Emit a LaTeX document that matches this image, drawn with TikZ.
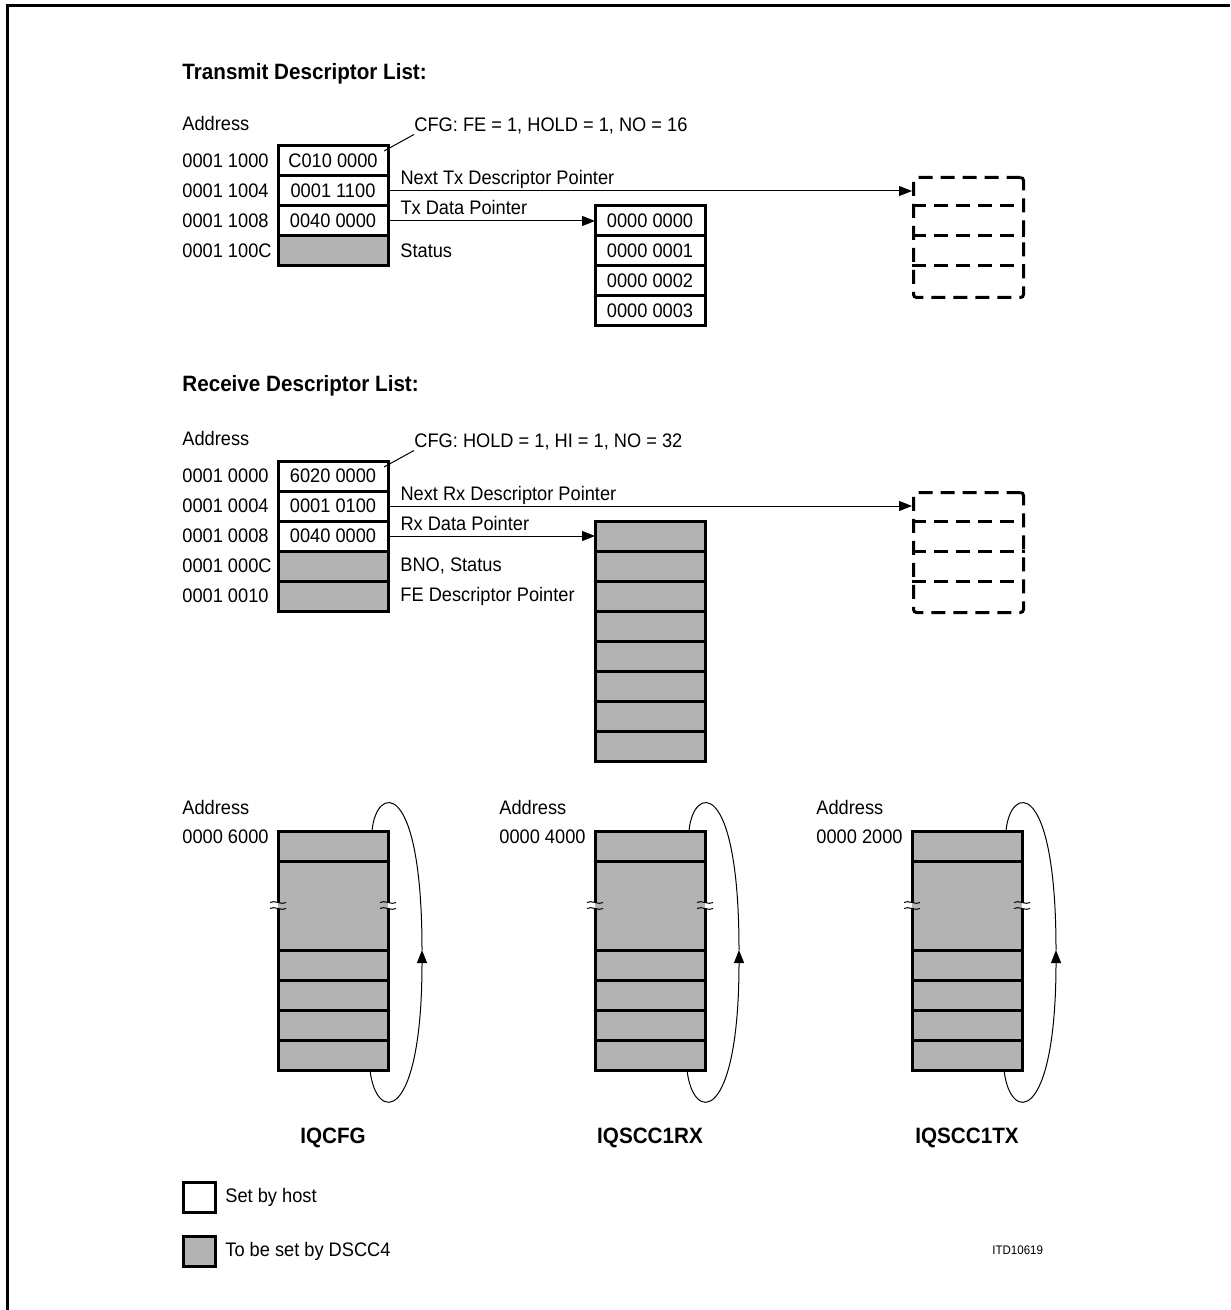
\documentclass[tikz,border=0pt]{standalone}
\usepackage{fontspec}
\setmainfont[FakeStretch=0.93]{Liberation Sans}
\usetikzlibrary{arrows.meta,positioning}
\definecolor{DSCCgray}{HTML}{B3B3B3}

\begin{document}
\begin{tikzpicture}[x=0.5pt, y=-0.5pt, >={Triangle[length=6.5pt,width=5pt]},
        every node/.style={font=\fontsize{9.8}{11}\selectfont},
        cell/.style={draw, line width=1.5pt, minimum width=55pt, minimum height=15pt, inner sep=0pt, outer sep=0pt},
        host/.style={cell, fill=white},
        dscc/.style={cell, fill=DSCCgray},
        ghost/.style={draw, line width=1.5pt, dash pattern=on 7pt off 4pt, rounded corners=1.5pt},
        lbl/.style={anchor=west, inner sep=0pt},
        heading/.style={anchor=west, inner sep=0pt, font=\fontsize{11.1}{13}\selectfont\bfseries},
        ptr/.style={->, line width=0.5pt},
        ptrlabel/.style={pos=0, anchor=base west, inner xsep=6pt, inner ysep=0pt, yshift=3pt}]
    \useasboundingbox (0,0) rectangle (1230,1310);
    \draw[line width=1.5pt] (7.8,1310) -- (7.8,5.3) -- (1230,5.3);
    \coordinate (addrcol) at (182,0);

    % Transmit descriptor list
    \node[heading] at (182,74) {Transmit Descriptor List:};
    \node[lbl] at (182,123) {Address};
    \node[host, anchor=north west] (tx0) at (278,146) {C010 0000};
    \node[host, below=0pt of tx0] (tx1) {0001 1100};
    \node[host, below=0pt of tx1] (tx2) {0040 0000};
    \node[dscc, below=0pt of tx2] (tx3) {};
    \foreach \i/\a in {0/0001 1000, 1/0001 1004, 2/0001 1008, 3/0001 100C}
        \node[lbl] at (tx\i.west -| addrcol) {\a};
    \node[lbl] (txcfg) at (414,126) {CFG: FE = 1, HOLD = 1, NO = 16};
    \coordinate (txtick) at (384,151);
    \draw[line width=0.5pt] (txtick) -- (txcfg.south west);
    \node[lbl, right=6pt of tx3] {Status};

    \node[host, anchor=north west] (txd0) at (595,206) {0000 0000};
    \node[host, below=0pt of txd0] (txd1) {0000 0001};
    \node[host, below=0pt of txd1] (txd2) {0000 0002};
    \node[host, below=0pt of txd2] (txd3) {0000 0003};

    \node[ghost, minimum width=55pt, minimum height=60pt, anchor=north west] (txnext) at (912,176) {};
    \foreach \k in {1,2,3}
        \draw[ghost] ([yshift=-\k*15pt]txnext.north west) -- ([yshift=-\k*15pt]txnext.north east);

    \draw[ptr] (tx1.east) -- node[ptrlabel] {Next Tx Descriptor Pointer} (tx1.east -| txnext.west);
    \draw[ptr] (tx2.east) -- node[ptrlabel] {Tx Data Pointer} (txd0.west);

    % Receive descriptor list
    \node[heading] at (182,386) {Receive Descriptor List:};
    \node[lbl] at (182,438) {Address};
    \node[host, anchor=north west] (rx0) at (278,461) {6020 0000};
    \node[host, below=0pt of rx0] (rx1) {0001 0100};
    \node[host, below=0pt of rx1] (rx2) {0040 0000};
    \node[dscc, below=0pt of rx2] (rx3) {};
    \node[dscc, below=0pt of rx3] (rx4) {};
    \foreach \i/\a in {0/0001 0000, 1/0001 0004, 2/0001 0008, 3/0001 000C, 4/0001 0010}
        \node[lbl] at (rx\i.west -| addrcol) {\a};
    \node[lbl] (rxcfg) at (414,442) {CFG: HOLD = 1, HI = 1, NO = 32};
    \coordinate (rxtick) at (384,467);
    \draw[line width=0.5pt] (rxtick) -- (rxcfg.south west);
    \node[lbl, right=6pt of rx3] {BNO, Status};
    \node[lbl, right=6pt of rx4] {FE Descriptor Pointer};

    \node[dscc, anchor=north west] (rxd0) at (595,521) {};
    \foreach \i [remember=\i as \last (initially 0)] in {1,...,7}
        \node[dscc, below=0pt of rxd\last] (rxd\i) {};

    \node[ghost, minimum width=55pt, minimum height=60pt, anchor=north west] (rxnext) at (912,491) {};
    \foreach \k in {1,2,3}
        \draw[ghost] ([yshift=-\k*15pt]rxnext.north west) -- ([yshift=-\k*15pt]rxnext.north east);

    \draw[ptr] (rx1.east) -- node[ptrlabel] {Next Rx Descriptor Pointer} (rx1.east -| rxnext.west);
    \draw[ptr] (rx2.east) -- node[ptrlabel] {Rx Data Pointer} (rxd0.west);

    % Interrupt queues
    \foreach \q/\x/\addr/\qname in {cfg/278/0000 6000/IQCFG, rx/595/0000 4000/IQSCC1RX, tx/912/0000 2000/IQSCC1TX} {
        \node[dscc, anchor=north west] (q\q0) at (\x,831) {};
        \node[dscc, below=0pt of q\q0, minimum height=44.5pt] (q\q1) {};
        \node[dscc, below=0pt of q\q1] (q\q2) {};
        \node[dscc, below=0pt of q\q2] (q\q3) {};
        \node[dscc, below=0pt of q\q3] (q\q4) {};
        \node[dscc, below=0pt of q\q4] (q\q5) {};
        \foreach \side/\s in {west/-1, east/1} {
            \fill[white] ([yshift=1.5pt]q\q1.\side) rectangle ([shift={(\s*2pt,-1.5pt)}]q\q1.\side);
            \fill[DSCCgray] ([yshift=1.5pt]q\q1.\side) rectangle ([shift={(-\s*2pt,-1.5pt)}]q\q1.\side);
            \draw[line width=0.5pt] ([shift={(-4pt,1.5pt)}]q\q1.\side) .. controls +(2pt,1.5pt) and +(-2pt,-1.5pt) .. ([shift={(4pt,1.5pt)}]q\q1.\side);
            \draw[line width=0.5pt] ([shift={(-4pt,-1.5pt)}]q\q1.\side) .. controls +(2pt,1.5pt) and +(-2pt,-1.5pt) .. ([shift={(4pt,-1.5pt)}]q\q1.\side);
        }
        \coordinate (loop\q) at ([xshift=17pt]q\q2.north east);
        \draw[ptr] ([xshift=-9pt]q\q5.south east) .. controls +(3pt,-27pt) and +(0pt,-87pt) .. (loop\q);
        \draw[line width=0.5pt] (loop\q) .. controls +(0pt,87pt) and +(2pt,23pt) .. ([xshift=-8pt]q\q0.north east);
        \node[lbl] (qa\q) at ([xshift=-48pt, yshift=-3pt]q\q0.north west) {\addr};
        \node[lbl] at ([yshift=15pt]qa\q.west) {Address};
        \node[heading, below=29pt of q\q5] {\qname};
    }

    % Legend
    \node[host, minimum width=16pt, anchor=north west] (keyhost) at (183,1182) {};
    \node[lbl, right=5pt of keyhost] {Set by host};
    \node[dscc, minimum width=16pt, anchor=north west] (keydscc) at (183,1236) {};
    \node[lbl, right=5pt of keydscc] {To be set by DSCC4};
    \node[lbl, font=\fontsize{6.2}{7}\selectfont] at (992,1250) {ITD10619};
\end{tikzpicture}
\end{document}
